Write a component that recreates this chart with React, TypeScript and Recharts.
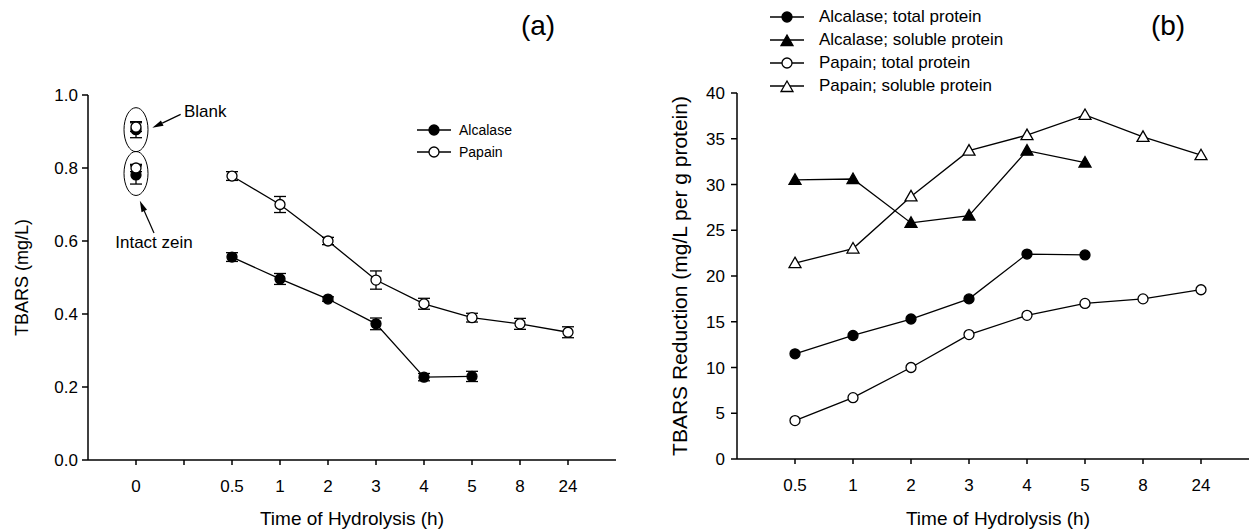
import React from 'react';
import {
  LineChart,
  Line,
  XAxis,
  YAxis,
  ErrorBar,
  Legend,
  ReferenceDot,
  ReferenceLine,
} from 'recharts';

const FONT = '"Liberation Sans", Arial, Helvetica, sans-serif';

// hydrolysis times (h), shared by both panels
const hydrolysisTimes = ['0.5', '1', '2', '3', '4', '5', '8', '24'];

// panel (a): TBARS (mg/L), x slot 0 = controls, slot 1 = gap
const tickLabelsA = ['0', '', ...hydrolysisTimes];
const alcalaseTbars = [0.556, 0.496, 0.441, 0.373, 0.227, 0.229];
const alcalaseTbarsErr = [0.012, 0.015, 0.006, 0.016, 0.01, 0.014];
const papainTbars = [0.778, 0.7, 0.6, 0.493, 0.428, 0.39, 0.373, 0.35];
const papainTbarsErr = [0.012, 0.022, 0.01, 0.025, 0.015, 0.012, 0.015, 0.015];

// controls at time 0: Blank, Intact zein
const controlLabels = ['Blank', 'Intact zein'];
const alcalaseControl = [0.905, 0.781];
const alcalaseControlErr = [0.022, 0.025];
const papainControl = [0.912, 0.8];
const papainControlErr = [0.012, 0.01];

// panel (b): TBARS reduction (mg/L per g protein)
const alcalaseTotal = [11.5, 13.5, 15.3, 17.5, 22.4, 22.3];
const alcalaseSoluble = [30.5, 30.6, 25.8, 26.6, 33.7, 32.4];
const papainTotal = [4.2, 6.7, 10.0, 13.6, 15.7, 17.0, 17.5, 18.5];
const papainSoluble = [21.4, 23.0, 28.7, 33.7, 35.4, 37.6, 35.2, 33.2];

const ticksA = tickLabelsA.map((_, i) => i);
const ticksB = hydrolysisTimes.map((_, i) => i);

const alcalaseRowsA = alcalaseTbars.map((y, i) => ({ x: i + 2, y, err: alcalaseTbarsErr[i] }));
const papainRowsA = papainTbars.map((y, i) => ({ x: i + 2, y, err: papainTbarsErr[i] }));
const alcalaseControlRows = alcalaseControl.map((y, i) => ({ x: 0, y, err: alcalaseControlErr[i] }));
const papainControlRows = papainControl.map((y, i) => ({ x: 0, y, err: papainControlErr[i] }));

const toRowsB = (vals: number[]) => vals.map((y, i) => ({ x: i, y }));

type Mark = 'circle' | 'triangle';

const markShape = (mark: Mark, filled: boolean, cx: number, cy: number, key?: any) => {
  const fill = filled ? '#000' : '#fff';
  if (mark === 'circle') {
    return <circle key={key} cx={cx} cy={cy} r={5} fill={fill} stroke="#000" strokeWidth={1.3} />;
  }
  const d = `M${cx},${cy - 6} L${cx + 6},${cy + 4.5} L${cx - 6},${cy + 4.5} Z`;
  return <path key={key} d={d} fill={fill} stroke="#000" strokeWidth={1.3} />;
};

const dot = (mark: Mark, filled: boolean) => (props: any) => {
  const { cx, cy, index } = props;
  if (cx == null || cy == null) return <g key={`n${index}`} />;
  return markShape(mark, filled, cx, cy, `d${index}`);
};

const arrowShape = (p: any) => {
  const { x1, y1, x2, y2 } = p;
  const dx = x2 - x1;
  const dy = y2 - y1;
  const len = Math.hypot(dx, dy) || 1;
  const ux = dx / len;
  const uy = dy / len;
  const bx = x2 - ux * 11;
  const by = y2 - uy * 11;
  return (
    <g>
      <line x1={x1} y1={y1} x2={bx} y2={by} stroke="#000" strokeWidth={1.2} />
      <path
        d={`M${x2},${y2} L${bx - uy * 3},${by + ux * 3} L${bx + uy * 3},${by - ux * 3} Z`}
        fill="#000"
      />
    </g>
  );
};

const ellipseShape = (p: any) => (
  <ellipse cx={p.cx} cy={p.cy} rx={12} ry={22} fill="none" stroke="#000" strokeWidth={1} />
);

const textShape = (text: string, anchor: 'start' | 'middle') => (p: any) => (
  <text x={p.cx} y={p.cy} textAnchor={anchor} dominantBaseline="central" fontSize={17} fill="#000">
    {text}
  </text>
);

type LegendItem = { name: string; mark: Mark; filled: boolean };

const makeLegend = (items: LegendItem[], fontSize: number, rowH: number, gap: number) => () => (
  <div style={{ fontFamily: FONT, fontSize, color: '#000' }}>
    {items.map((it) => (
      <div key={it.name} style={{ display: 'flex', alignItems: 'center', height: rowH }}>
        <svg width={34} height={14} style={{ marginRight: gap }}>
          <line x1={0} y1={7} x2={34} y2={7} stroke="#000" strokeWidth={1.3} />
          {markShape(it.mark, it.filled, 17, it.mark === 'triangle' ? 8 : 7)}
        </svg>
        <span style={{ whiteSpace: 'nowrap' }}>{it.name}</span>
      </div>
    ))}
  </div>
);

const legendA = makeLegend(
  [
    { name: 'Alcalase', mark: 'circle', filled: true },
    { name: 'Papain', mark: 'circle', filled: false },
  ],
  14,
  22,
  8
);

const legendB = makeLegend(
  [
    { name: 'Alcalase; total protein', mark: 'circle', filled: true },
    { name: 'Alcalase; soluble protein', mark: 'triangle', filled: true },
    { name: 'Papain; total protein', mark: 'circle', filled: false },
    { name: 'Papain; soluble protein', mark: 'triangle', filled: false },
  ],
  17,
  23,
  15
);

const axisProps = { stroke: '#000', strokeWidth: 1.5 };
const tickStyle = { fill: '#000', fontSize: 17, fontFamily: FONT };

function PanelA() {
  return (
    <LineChart width={640} height={529} margin={{ top: 95, right: 24, bottom: 0, left: 28 }}>
      <XAxis
        type="number"
        dataKey="x"
        domain={[-1, 10]}
        ticks={ticksA}
        tickFormatter={(v: number) => tickLabelsA[v] ?? ''}
        allowDataOverflow
        height={69}
        tickSize={5}
        tickMargin={15}
        tick={tickStyle}
        axisLine={axisProps}
        tickLine={axisProps}
        label={{ value: 'Time of Hydrolysis (h)', position: 'insideBottom', offset: 4, fill: '#000', fontSize: 19 }}
      />
      <YAxis
        type="number"
        dataKey="y"
        domain={[0, 1]}
        ticks={[0, 0.2, 0.4, 0.6, 0.8, 1.0]}
        tickFormatter={(v: number) => v.toFixed(1)}
        width={60}
        tickSize={6}
        tickMargin={4}
        tick={tickStyle}
        axisLine={axisProps}
        tickLine={axisProps}
        label={{
          value: 'TBARS (mg/L)',
          angle: -90,
          position: 'insideLeft',
          offset: -6,
          fill: '#000',
          fontSize: 18,
          style: { textAnchor: 'middle' },
        }}
      />
      <Legend
        content={legendA}
        layout="vertical"
        align="center"
        verticalAlign="middle"
        wrapperStyle={{ left: 417, top: 119, width: 'auto' }}
      />
      <ReferenceDot x={0} y={0.905} shape={ellipseShape} />
      <ReferenceDot x={0} y={0.785} shape={ellipseShape} />
      <ReferenceLine segment={[{ x: 0.93, y: 0.947 }, { x: 0.34, y: 0.91 }]} shape={arrowShape} />
      <ReferenceLine segment={[{ x: 0.375, y: 0.622 }, { x: 0.08, y: 0.71 }]} shape={arrowShape} />
      <ReferenceDot x={1.0} y={0.956} shape={textShape(controlLabels[0], 'start')} />
      <ReferenceDot x={0.375} y={0.595} shape={textShape(controlLabels[1], 'middle')} />
      <Line
        data={alcalaseRowsA}
        dataKey="y"
        stroke="#000"
        strokeWidth={1.3}
        dot={dot('circle', true)}
        isAnimationActive={false}
        legendType="none"
      >
        <ErrorBar dataKey="err" width={6} stroke="#000" strokeWidth={1.3} direction="y" />
      </Line>
      <Line
        data={papainRowsA}
        dataKey="y"
        stroke="#000"
        strokeWidth={1.3}
        dot={dot('circle', false)}
        isAnimationActive={false}
        legendType="none"
      >
        <ErrorBar dataKey="err" width={6} stroke="#000" strokeWidth={1.3} direction="y" />
      </Line>
      <Line
        data={alcalaseControlRows}
        dataKey="y"
        stroke="none"
        dot={dot('circle', true)}
        isAnimationActive={false}
        legendType="none"
      >
        <ErrorBar dataKey="err" width={6} stroke="#000" strokeWidth={1.3} direction="y" />
      </Line>
      <Line
        data={papainControlRows}
        dataKey="y"
        stroke="none"
        dot={dot('circle', false)}
        isAnimationActive={false}
        legendType="none"
      >
        <ErrorBar dataKey="err" width={6} stroke="#000" strokeWidth={1.3} direction="y" />
      </Line>
    </LineChart>
  );
}

function PanelB() {
  return (
    <LineChart width={640} height={529} margin={{ top: 93, right: 21, bottom: 0, left: 37 }}>
      <XAxis
        type="number"
        dataKey="x"
        domain={[-1, 8]}
        ticks={ticksB}
        tickFormatter={(v: number) => hydrolysisTimes[v] ?? ''}
        allowDataOverflow
        height={70}
        tickSize={5}
        tickMargin={15}
        tick={tickStyle}
        axisLine={axisProps}
        tickLine={axisProps}
        label={{ value: 'Time of Hydrolysis (h)', position: 'insideBottom', offset: 4, fill: '#000', fontSize: 19 }}
      />
      <YAxis
        type="number"
        dataKey="y"
        domain={[0, 40]}
        ticks={[0, 5, 10, 15, 20, 25, 30, 35, 40]}
        width={60}
        tickSize={6}
        tickMargin={6}
        tick={tickStyle}
        axisLine={axisProps}
        tickLine={axisProps}
        label={{
          value: 'TBARS Reduction (mg/L per g protein)',
          angle: -90,
          position: 'insideLeft',
          offset: 3,
          fill: '#000',
          fontSize: 21,
          style: { textAnchor: 'middle' },
        }}
      />
      <Legend
        content={legendB}
        layout="vertical"
        align="center"
        verticalAlign="middle"
        wrapperStyle={{ left: 130, top: 5, width: 'auto' }}
      />
      <Line data={toRowsB(alcalaseTotal)} dataKey="y" stroke="#000" strokeWidth={1.3}
        dot={dot('circle', true)} isAnimationActive={false} legendType="none" />
      <Line data={toRowsB(alcalaseSoluble)} dataKey="y" stroke="#000" strokeWidth={1.3}
        dot={dot('triangle', true)} isAnimationActive={false} legendType="none" />
      <Line data={toRowsB(papainTotal)} dataKey="y" stroke="#000" strokeWidth={1.3}
        dot={dot('circle', false)} isAnimationActive={false} legendType="none" />
      <Line data={toRowsB(papainSoluble)} dataKey="y" stroke="#000" strokeWidth={1.3}
        dot={dot('triangle', false)} isAnimationActive={false} legendType="none" />
    </LineChart>
  );
}

const titleStyle: React.CSSProperties = {
  position: 'absolute',
  top: 12,
  width: 100,
  textAlign: 'center',
  fontSize: 28,
  lineHeight: '28px',
  fontFamily: FONT,
  color: '#000',
};

export default function App() {
  return (
    <div
      style={{
        position: 'fixed',
        left: 0,
        top: 0,
        width: 1249,
        height: 529,
        overflow: 'hidden',
        background: '#fff',
        fontFamily: FONT,
      }}
    >
      <div style={{ position: 'absolute', left: 0, top: 0 }}>
        <PanelA />
      </div>
      <div style={{ position: 'absolute', left: 640, top: 0 }}>
        <PanelB />
      </div>
      <div style={{ ...titleStyle, left: 488 }}>(a)</div>
      <div style={{ ...titleStyle, left: 1118 }}>(b)</div>
    </div>
  );
}
